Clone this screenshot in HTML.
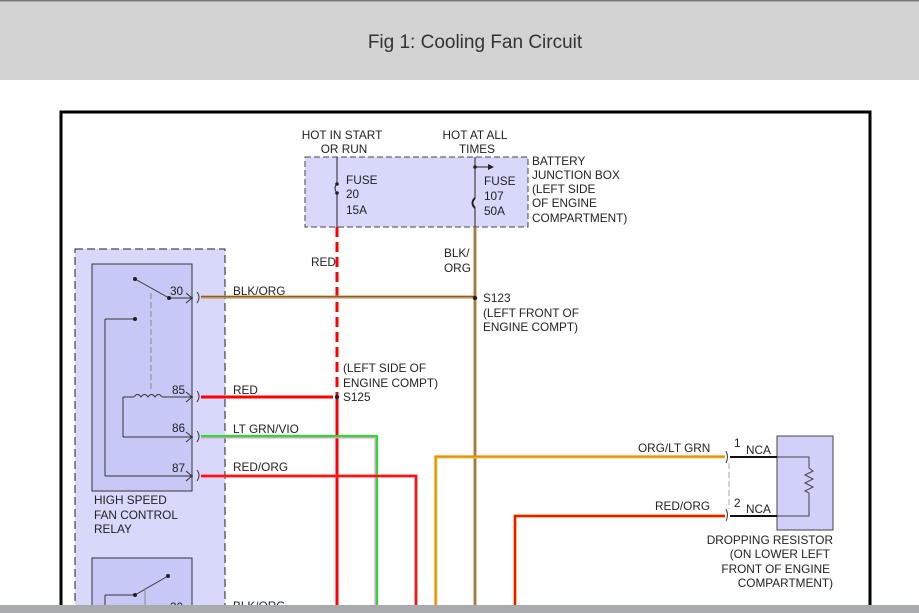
<!DOCTYPE html>
<html><head><style>
html,body{margin:0;padding:0;width:919px;height:613px;overflow:hidden;background:#fff}
svg text{font-family:"Liberation Sans",sans-serif;font-size:11.8px;fill:#222}
</style></head><body>
<svg width="919" height="613" xmlns="http://www.w3.org/2000/svg">
<rect x="0" y="0" width="919" height="80" fill="#d3d3d3"/>
<rect x="0" y="0" width="919" height="1.5" fill="#777"/>
<text x="475" y="48" text-anchor="middle" style="font-size:19px;fill:#333">Fig 1: Cooling Fan Circuit</text>
<rect x="61" y="112" width="809" height="520" fill="#fff" stroke="#000" stroke-width="3"/>

<rect x="75" y="249" width="150" height="380" fill="#d8d8fa" stroke="#222" stroke-dasharray="8,4"/>
<rect x="92" y="264" width="100" height="227" fill="#c8c8f6" stroke="#333"/>
<rect x="92" y="558" width="100" height="80" fill="#c8c8f6" stroke="#333"/>
<g stroke="#333" fill="none" stroke-width="1">
<line x1="135" y1="279" x2="169" y2="298"/>
<line x1="169" y1="298" x2="193" y2="298"/>
<line x1="105" y1="319" x2="135" y2="319"/>
<line x1="105" y1="319" x2="105" y2="476"/>
<line x1="105" y1="476" x2="193" y2="476"/>
<line x1="123" y1="397" x2="123" y2="437"/>
<line x1="123" y1="437" x2="193" y2="437"/>
<line x1="123" y1="397" x2="134" y2="397"/>
<path d="M134 397 q3.5 -5 7 0 q3.5 -5 7 0 q3.5 -5 7 0 q3.5 -5 7 0"/>
<line x1="162" y1="397" x2="193" y2="397"/>
<line x1="151" y1="293" x2="151" y2="392" stroke="#888" stroke-dasharray="6,3"/>
<path d="M186 293 l6 5 l-6 5 M186 392 l6 5 l-6 5 M186 432 l6 5 l-6 5 M186 471 l6 5 l-6 5"/>
<path d="M197 292 q4 5 0 11 M197 391 q4 5 0 11 M197 431 q4 5 0 11 M197 470 q4 5 0 11"/>
<line x1="105" y1="595" x2="135" y2="595"/><line x1="105" y1="595" x2="105" y2="613"/>
<line x1="135" y1="595" x2="168" y2="576"/>
<line x1="145" y1="588" x2="145" y2="605" stroke="#888"/>
</g>
<circle cx="135" cy="279" r="2" fill="#222"/><circle cx="169" cy="298" r="2" fill="#222"/><circle cx="135" cy="319" r="2" fill="#222"/>
<circle cx="135" cy="595" r="2" fill="#222"/><circle cx="168" cy="576" r="2" fill="#222"/>
<text x="170" y="295">30</text><text x="172" y="394">85</text><text x="172" y="432">86</text><text x="172" y="472">87</text><text x="170" y="611">30</text>
<text x="94" y="504">HIGH SPEED</text><text x="94" y="519">FAN CONTROL</text><text x="94" y="533">RELAY</text>

<rect x="305" y="157" width="223" height="70" fill="#d8d8fa" stroke="#444" stroke-dasharray="6,3"/>
<g stroke="#222" fill="none">
<line x1="337" y1="157" x2="337" y2="184"/><path d="M337 184 q-4 4 0 9"/><line x1="337" y1="193" x2="337" y2="227"/>
<line x1="475" y1="157" x2="475" y2="198"/><path d="M475 198 q-5 5 0 10" stroke-width="2"/><line x1="475" y1="208" x2="475" y2="227"/>
<line x1="475" y1="167" x2="490" y2="167"/>
</g>
<path d="M488 164 l6 3 l-6 3z" fill="#222"/>
<circle cx="337" cy="184" r="1.8" fill="#222"/><circle cx="337" cy="193" r="1.8" fill="#222"/><circle cx="475" cy="167" r="1.8" fill="#222"/>
<text x="342" y="139" text-anchor="middle">HOT IN START</text><text x="344" y="153" text-anchor="middle">OR RUN</text>
<text x="475" y="139" text-anchor="middle">HOT AT ALL</text><text x="477" y="153" text-anchor="middle">TIMES</text>
<text x="346" y="184">FUSE</text><text x="346" y="198">20</text><text x="346" y="214">15A</text>
<text x="484" y="185">FUSE</text><text x="484" y="200">107</text><text x="484" y="215">50A</text>
<text x="532" y="165">BATTERY</text><text x="532" y="179">JUNCTION BOX</text><text x="532" y="193">(LEFT SIDE</text><text x="532" y="207">OF ENGINE</text><text x="532" y="222">COMPARTMENT)</text>

<line x1="337" y1="227" x2="337" y2="392" stroke="#f00" stroke-width="3" stroke-dasharray="10,5"/>
<line x1="337" y1="392" x2="337" y2="613" stroke="#f00" stroke-width="3"/>
<line x1="475" y1="227" x2="475" y2="613" stroke="#d88a30" stroke-width="3"/>
<line x1="475" y1="227" x2="475" y2="613" stroke="#666" stroke-width="1"/>
<line x1="201" y1="297" x2="475" y2="297" stroke="#d88a30" stroke-width="3"/>
<line x1="201" y1="296.5" x2="475" y2="296.5" stroke="#666" stroke-width="1"/>
<line x1="201" y1="397" x2="333" y2="397" stroke="#f00" stroke-width="3"/>
<polyline points="201,437 376,437 376,613" fill="none" stroke="#e890e0" stroke-width="3"/>
<polyline points="201,436 377,436 377,613" fill="none" stroke="#1e1" stroke-width="2"/>
<polyline points="201,476 416,476 416,613" fill="none" stroke="#f44" stroke-width="3"/>
<polyline points="201,476 416,476 416,613" fill="none" stroke="#f00" stroke-width="1.5"/>
<polyline points="725,457 436,457 436,613" fill="none" stroke="#9e6" stroke-width="3"/>
<polyline points="725,456.5 435.5,456.5 435.5,613" fill="none" stroke="#f80" stroke-width="2.2"/>
<polyline points="725,516 515,516 515,613" fill="none" stroke="#f80" stroke-width="3"/>
<polyline points="725,516 515,516 515,613" fill="none" stroke="#f00" stroke-width="1.8"/>
<circle cx="475" cy="298" r="2.2" fill="#222"/><circle cx="337" cy="397" r="2.2" fill="#222"/>
<text x="311" y="266">RED</text>
<text x="444" y="257">BLK/</text><text x="444" y="272">ORG</text>
<text x="483" y="302">S123</text><text x="483" y="317">(LEFT FRONT OF</text><text x="483" y="331">ENGINE COMPT)</text>
<text x="343" y="372">(LEFT SIDE OF</text><text x="343" y="387">ENGINE COMPT)</text><text x="343" y="401">S125</text>
<text x="233" y="295">BLK/ORG</text><text x="233" y="394">RED</text><text x="233" y="433">LT GRN/VIO</text><text x="233" y="471">RED/ORG</text><text x="233" y="610">BLK/ORG</text>
<text x="638" y="452">ORG/LT GRN</text><text x="655" y="510">RED/ORG</text>

<rect x="777" y="436" width="56" height="94" fill="#d0d0fa" stroke="#444"/>
<g stroke="#111" fill="none">
<path d="M726 451 q3 6 0 12 M726 509 q3 6 0 12" stroke="#333"/>
<line x1="730" y1="457" x2="777" y2="457" stroke-width="2"/>
<line x1="730" y1="516" x2="777" y2="516" stroke-width="2"/>
<line x1="729" y1="463" x2="729" y2="509" stroke="#aaa" stroke-dasharray="6,3"/>
<polyline points="777,457 809,457 809,468 813,471 805,475 813,479 805,483 813,487 805,491 809,493 809,516 777,516" stroke="#444"/>
</g>
<text x="734" y="447">1</text><text x="746" y="454">NCA</text>
<text x="734" y="507">2</text><text x="746" y="513">NCA</text>
<text x="833" y="544" text-anchor="end">DROPPING RESISTOR</text>
<text x="830" y="558" text-anchor="end">(ON LOWER LEFT</text>
<text x="830" y="573" text-anchor="end">FRONT OF ENGINE</text>
<text x="833" y="587" text-anchor="end">COMPARTMENT)</text>

<rect x="0" y="605" width="919" height="8" fill="#a8aaac"/>
</svg>
</body></html>
